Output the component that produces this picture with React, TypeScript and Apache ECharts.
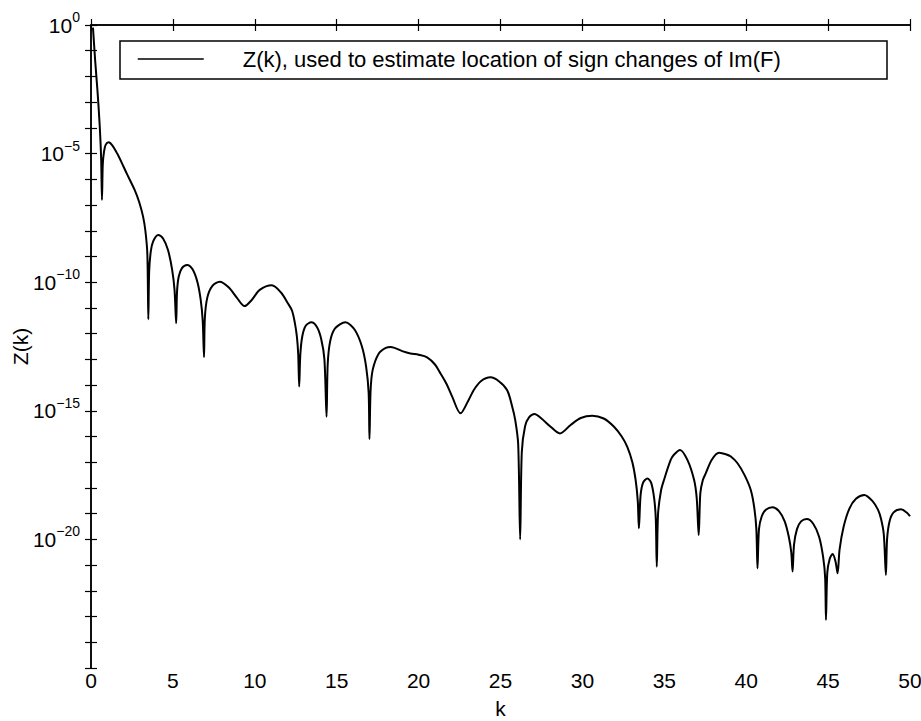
import React, { useEffect, useRef } from "react";
import * as echarts from "echarts";

// k positions
const kValues: number[] = [
  0.12, 0.26, 0.4, 0.53, 0.62, 0.67,
  0.72, 0.8, 0.9, 1.08, 1.3, 1.6, 1.85, 2.2, 2.67, 2.95, 3.18, 3.32, 3.44, 3.5,
  3.55, 3.65, 3.8, 4.1, 4.4, 4.7, 4.95, 5.1, 5.2,
  5.25, 5.35, 5.55, 5.87, 6.2, 6.5, 6.7, 6.82, 6.9,
  6.95, 7.1, 7.4, 7.86, 8.4, 8.9, 9.37, 9.8, 10.3, 11.04, 11.6, 12.0, 12.27, 12.45, 12.57, 12.65, 12.71,
  12.78, 12.9, 13.1, 13.45, 13.8, 14.05, 14.25, 14.38,
  14.45, 14.6, 14.9, 15.53, 16.1, 16.54, 16.8, 16.95, 17.0,
  17.07, 17.2, 17.57, 18.0, 18.3, 19.0, 19.5, 20.0, 20.52, 21.0, 21.33, 21.7, 22.05, 22.56, 23.0, 23.37, 23.8, 24.39, 24.9, 25.4, 25.7, 25.9, 26.08, 26.2,
  26.3, 26.5, 26.75, 27.08, 27.5, 28.06, 28.63, 29.28, 29.9, 30.6, 31.3, 31.93, 32.4, 32.74, 33.05, 33.25, 33.38, 33.45,
  33.55, 33.7, 33.97, 34.2, 34.38, 34.48, 34.54,
  34.62, 34.8, 34.98, 35.39, 35.6, 35.96, 36.41, 36.82, 36.98, 37.1,
  37.2, 37.35, 37.53, 37.9, 38.34, 38.8, 39.06, 39.47, 39.9, 40.28, 40.5, 40.62, 40.69,
  40.78, 40.95, 41.2, 41.6, 42.0, 42.35, 42.6, 42.75, 42.83,
  42.92, 43.1, 43.35, 43.7, 44.1, 44.45, 44.7, 44.82, 44.87,
  44.95, 45.1, 45.28, 45.45, 45.58,
  45.7, 45.95, 46.3, 46.7, 47.21, 47.7, 48.05, 48.23, 48.4, 48.53,
  48.6, 48.75, 49.0, 49.45, 49.86, 50.0,
];

// log10 of Z(k) (the y axis is logarithmic)
const zLog10: number[] = [
  -0.1, -1.43, -2.6, -3.9, -5.2, -6.8,
  -5.4, -4.9, -4.65, -4.56, -4.68, -5.0, -5.32, -5.8, -6.42, -6.9, -7.45, -8.0, -8.9, -11.44,
  -9.6, -8.8, -8.4, -8.16, -8.3, -8.75, -9.5, -10.3, -11.6,
  -10.4, -9.8, -9.45, -9.33, -9.5, -10.0, -10.7, -11.5, -12.92,
  -11.4, -10.6, -10.15, -9.98, -10.2, -10.6, -10.93, -10.7, -10.3, -10.12, -10.4, -10.8, -11.1, -11.6, -12.12, -12.8, -14.06,
  -12.8, -12.1, -11.7, -11.56, -11.75, -12.2, -13.0, -15.23,
  -13.2, -12.3, -11.8, -11.56, -11.85, -12.5, -13.3, -14.3, -16.1,
  -14.2, -13.4, -12.77, -12.55, -12.52, -12.68, -12.77, -12.82, -12.92, -13.2, -13.54, -13.95, -14.45, -15.1, -14.65, -14.19, -13.85, -13.7, -13.85, -14.19, -14.8, -15.36, -16.3, -20.0,
  -16.6, -15.6, -15.25, -15.12, -15.3, -15.62, -15.88, -15.55, -15.28, -15.19, -15.3, -15.62, -16.0, -16.4, -17.0, -17.69, -18.5, -19.57,
  -18.3, -17.8, -17.63, -17.8, -18.4, -19.2, -21.06,
  -19.0, -18.1, -17.69, -16.91, -16.7, -16.52, -16.91, -17.69, -18.4, -19.83,
  -18.2, -17.7, -17.43, -16.9, -16.63, -16.7, -16.78, -17.04, -17.5, -18.08, -18.8, -19.6, -21.12,
  -19.6, -19.1, -18.85, -18.75, -18.9, -19.3, -19.9, -20.5, -21.25,
  -20.2, -19.6, -19.3, -19.21, -19.4, -19.9, -20.7, -21.5, -23.13,
  -21.3, -20.75, -20.57, -20.85, -21.32,
  -20.4, -19.5, -18.8, -18.42, -18.27, -18.5, -18.85, -19.2, -19.8, -21.38,
  -20.0, -19.3, -18.95, -18.83, -18.99, -19.1,
];

const seriesName = "Z(k), used to estimate location of sign changes of Im(F)";
const xTickValues = [0, 5, 10, 15, 20, 25, 30, 35, 40, 45, 50];
const yLabelExponents = [0, -5, -10, -15, -20];
const xAxisName = "k";
const yAxisName = "Z(k)";

const FONT = "'Liberation Sans', Arial, Helvetica, sans-serif";
const FS = 21;

export default function App() {
  const ref = useRef<HTMLDivElement>(null);
  useEffect(() => {
    if (!ref.current) return;
    const chart = echarts.init(ref.current, null, { renderer: "svg" });
    const data = kValues.map((k, i) => [k, zLog10[i]]);
    const yFormatter = (v: number) => {
      const e = Math.round(v);
      if (yLabelExponents.indexOf(e) < 0) return "";
      const s = e < 0 ? "\u2212" + String(-e) : String(e);
      return "{b|10}{s|" + s + "}";
    };
    const axisLine = { show: true, lineStyle: { color: "#000", width: 1.5 } };
    const axisTick = { show: true, inside: true, length: 6, lineStyle: { color: "#000", width: 1.2 } };
    chart.setOption({
      animation: false,
      backgroundColor: "#fff",
      textStyle: { fontFamily: FONT },
      grid: { left: 91, right: 11, top: 25, bottom: 53, containLabel: false, outerBoundsMode: "none" },
      legend: {
        data: [seriesName],
        left: 137,
        top: 48,
        padding: 0,
        itemWidth: 66,
        itemHeight: 24,
        lineStyle: { width: 1.5, color: "#000" },
        itemStyle: { opacity: 0 },
        textStyle: { fontSize: 22, color: "#000", fontFamily: FONT, padding: [0, 0, 0, 34] },
        selectedMode: false,
      },
      graphic: [
        {
          type: "rect",
          z: 1,
          shape: { x: 120, y: 41, width: 767, height: 38 },
          style: { fill: "#fff", stroke: "#000", lineWidth: 1.5 },
        },
      ],
      xAxis: [
        {
          type: "value",
          min: 0,
          max: 50,
          interval: 5,
          position: "bottom",
          name: xAxisName,
          nameLocation: "middle",
          nameGap: 32,
          nameMoveOverlap: false,
          nameTextStyle: { fontSize: FS, lineHeight: 16, color: "#000", fontFamily: FONT },
          axisLine,
          axisTick,
          splitLine: { show: false },
          axisLabel: {
            fontSize: FS,
            color: "#000",
            margin: 2,
            fontFamily: FONT,
            formatter: (v: number) => (xTickValues.indexOf(v) >= 0 ? String(v) : ""),
          },
        },
        {
          type: "value",
          min: 0,
          max: 50,
          interval: 5,
          position: "top",
          axisLine,
          axisTick,
          axisLabel: { show: false },
          splitLine: { show: false },
        },
      ],
      yAxis: [
        {
          type: "value",
          min: -25,
          max: 0,
          interval: 1,
          position: "left",
          name: yAxisName,
          nameLocation: "middle",
          nameGap: 60,
          nameMoveOverlap: false,
          nameTextStyle: { fontSize: FS, color: "#000", fontFamily: FONT },
          axisLine,
          axisTick,
          splitLine: { show: false },
          axisLabel: {
            color: "#000",
            margin: 11,
            fontFamily: FONT,
            formatter: yFormatter,
            rich: {
              b: { fontSize: FS, color: "#000", fontFamily: FONT },
              s: { fontSize: 14, color: "#000", fontFamily: FONT, padding: [0, 0, 16, 0] },
            },
          },
        },
        {
          type: "value",
          min: -25,
          max: 0,
          interval: 1,
          position: "right",
          axisLine,
          axisTick,
          axisLabel: { show: false },
          splitLine: { show: false },
        },
      ],
      series: [
        {
          name: seriesName,
          type: "line",
          data,
          symbol: "none",
          showSymbol: false,
          smooth: 0.3,
          lineStyle: { color: "#000", width: 2 },
          itemStyle: { color: "#000" },
          clip: true,
          z: 3,
        },
      ],
    });
    return () => chart.dispose();
  }, []);
  return (
    <div
      ref={ref}
      style={{ position: "absolute", left: 0, top: 0, width: 921, height: 721, background: "#fff" }}
    />
  );
}
